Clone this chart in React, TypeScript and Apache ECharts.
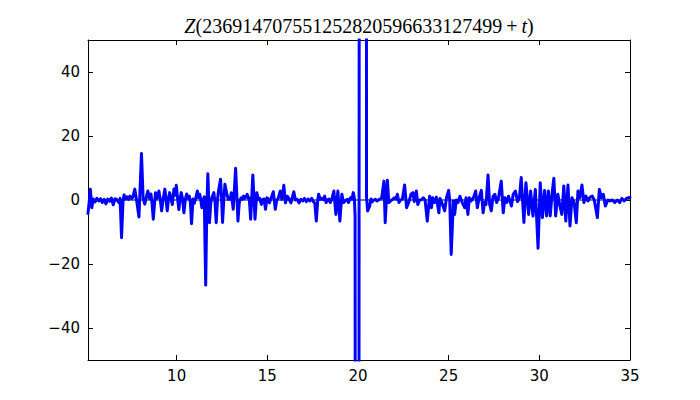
import React, { useEffect, useRef } from "react";
import * as echarts from "echarts";

const tValues = [
  5.11, 5.17, 5.24, 5.32, 5.40, 5.50, 5.60, 5.70, 5.80, 5.90, 6.00, 6.10, 6.20, 6.30, 6.40, 6.50, 6.60, 6.70, 6.80, 6.88,
  6.96, 7.04, 7.10, 7.18, 7.26, 7.34, 7.42, 7.50, 7.58, 7.69, 7.80, 7.92, 8.06, 8.15, 8.24, 8.33, 8.41, 8.50, 8.58, 8.64,
  8.71, 8.83, 8.92, 9.02, 9.10, 9.17, 9.26, 9.35, 9.42, 9.48, 9.55, 9.61, 9.70, 9.76, 9.85, 9.92, 9.98, 10.05, 10.12, 10.18,
  10.25, 10.32, 10.40, 10.48, 10.55, 10.62, 10.70, 10.76, 10.82, 10.90, 10.97, 11.05, 11.14, 11.20, 11.27, 11.33, 11.39, 11.46, 11.52, 11.60,
  11.66, 11.72, 11.81, 11.88, 11.94, 12.05, 12.12, 12.18, 12.25, 12.31, 12.42, 12.48, 12.53, 12.60, 12.66, 12.77, 12.85, 12.90, 12.96, 13.01,
  13.06, 13.12, 13.25, 13.33, 13.38, 13.45, 13.49, 13.56, 13.62, 13.69, 13.75, 13.82, 13.89, 13.95, 14.00, 14.08, 14.20, 14.32, 14.42, 14.50,
  14.58, 14.67, 14.74, 14.82, 14.90, 14.98, 15.06, 15.12, 15.20, 15.33, 15.44, 15.52, 15.60, 15.71, 15.80, 15.91, 16.00, 16.10, 16.20, 16.30,
  16.46, 16.55, 16.65, 16.75, 16.85, 16.95, 17.05, 17.15, 17.25, 17.35, 17.45, 17.55, 17.62, 17.70, 17.78, 17.83, 17.92, 18.00, 18.08, 18.16,
  18.24, 18.32, 18.40, 18.47, 18.55, 18.67, 18.78, 18.89, 19.00, 19.11, 19.20, 19.30, 19.40, 19.48, 19.58, 19.66, 19.74, 19.80, 19.84, 19.88,
  19.96, 20.02, 20.10, 20.30, 20.43, 20.47, 20.53, 20.64, 20.72, 20.80, 20.88, 20.96, 21.05, 21.12, 21.20, 21.30, 21.43, 21.50, 21.62, 21.70,
  21.80, 21.92, 22.00, 22.10, 22.17, 22.26, 22.35, 22.45, 22.57, 22.68, 22.75, 22.85, 22.92, 23.03, 23.10, 23.22, 23.30, 23.40, 23.50, 23.60,
  23.70, 23.82, 23.95, 24.05, 24.12, 24.22, 24.32, 24.46, 24.52, 24.62, 24.78, 24.88, 25.00, 25.06, 25.14, 25.26, 25.33, 25.42, 25.52, 25.62,
  25.75, 25.88, 25.96, 26.06, 26.14, 26.24, 26.38, 26.49, 26.58, 26.68, 26.80, 26.90, 26.98, 27.06, 27.17, 27.26, 27.35, 27.45, 27.55, 27.65,
  27.75, 27.90, 28.01, 28.10, 28.20, 28.30, 28.46, 28.56, 28.68, 28.80, 28.90, 29.00, 29.15, 29.26, 29.41, 29.52, 29.65, 29.78, 29.93, 30.05,
  30.17, 30.29, 30.40, 30.50, 30.60, 30.70, 30.80, 30.90, 31.02, 31.12, 31.24, 31.35, 31.46, 31.58, 31.69, 31.80, 31.92, 32.04, 32.13, 32.24,
  32.35, 32.46, 32.57, 32.68, 32.80, 32.92, 33.03, 33.20, 33.31, 33.42, 33.53, 33.64, 33.78, 33.90, 34.03, 34.16, 34.30, 34.43, 34.55, 34.68,
  34.80, 34.92, 35.00,
];

const zValues = [
  -4.2, -1, 3.4, -2.4, 0.3, -0.6, 0.5, -0.3, 0.4, -0.8, 0.2, -1.2, 0.3, -0.4, 0.6, -1.5, 0.4, 0.1, -0.8, 0.5,
  -11.8, -0.5, 1.6, 0.3, 1.0, 0.2, 1.2, 0.5, 0.8, 3.4, -0.5, -5.3, 14.5, 0.5, -1.3, 1, 2.8, 0.5, 1.9, -1,
  -6, 2.3, 0.5, 2.8, 0, -3.4, 0.5, 3.4, 0, -3.4, 0.3, 2.3, 0.2, -1.4, 3.4, 1.5, 4.6, 0.5, -3, 0,
  2.3, 0.5, -4, 0.3, 1.9, 0.5, 1.2, -1, -7.4, 0.3, -1.0, 0.5, 2.8, 0.8, 1.8, 0, -2.4, 0, 1, -26.6,
  -3, 8.2, -7.1, -1, 0.7, 2.3, -1, -7.1, 0, 3, 6.5, 0, -7, 0, 4.9, 1.8, 0.2, 0.7, 0.3, 2.3,
  0, -2.9, 9.9, 0, -6.6, -1, 0, 0.7, 0.2, 1.2, 0.5, 1.0, 1.8, 0.5, 0.7, -6, 7.8, -6, 2.3, 0.2,
  0.5, -1.4, 0.2, 0.3, -2.9, 0.7, 0.3, -0.9, 0.5, 2.6, -2.9, 0, 0.5, 2.8, 0.2, 4.6, -0.9, 1.2, 0.3, -0.9,
  2.6, 0, 0.2, -0.9, 0.2, -0.3, 0.5, -0.5, 0.3, -0.3, 0.5, -0.6, -1, -6.6, 0, 1.8, 0.2, 0.5, 0.1, 1.2,
  -0.8, 0, 0.3, -0.8, 0.2, 2.8, -4.5, 2.8, -6.6, 1.8, -0.8, -0.3, 0.2, -0.8, 0.7, 0.3, 2.3, 0.5, -5, -400,
  -500, -500, 500, 600, 500, 1, -3.4, -1.9, 0.3, -0.5, 0, 0.2, -0.3, 0, 0.3, 0.5, 5.9, -7.1, 6.2, -0.8,
  -0.3, 0.3, 0.7, 0.3, 1.8, -0.8, 0, 0.3, 4.7, -2.4, -1.4, 0.2, 1.8, 2.3, -0.5, 2.8, -1.4, 0, 0.1, 0.7,
  0, -6.6, 1.2, -2.4, 0.7, -0.8, 0.9, -4, 0.5, -0.8, -3.4, 0.7, 3, -0.3, -17, -0.3, -4.5, 0, -0.8, 1.2,
  -0.8, -2.4, 0.7, -4.5, 0.7, -0.3, 0.9, 2.8, -2.4, 0.7, 3, -4, -0.8, -1.4, 7.8, -1.4, -3.4, 1.2, 1.8, -0.8,
  0.7, 5.9, -4, 0.7, -0.8, 1.2, -1.9, 1.8, 2.8, -0.5, 0.7, 7, -7, 5.4, -4.5, 2.8, -5, 3.3, -15.1, 5.4,
  -5.5, 3, -5, 2.8, -5, 1.8, 6.8, -5, 1.8, -1.4, -4.5, 4.4, -6.6, 4.7, -8.1, 0.7, -0.8, -7.1, 2.8, 0.7,
  4.7, -0.8, 1.2, -0.3, 0.9, 1.2, 0, -5.5, 3.3, 0.7, 1.8, -1.9, 0, -0.3, 0, -0.8, 0, -0.8, 0.5, -0.3,
  0.5, 0.7, 0.8,
];

const xTicks = [10, 15, 20, 25, 30, 35];
const yTicks = [-40, -20, 0, 20, 40];
const xMin = 5.11;
const xMax = 35;
const yMin = -50;
const yMax = 50;
const titleNumber = "236914707551252820596633127499";

const fmt = (v: number) => (v < 0 ? "\u2212" + Math.abs(v) : String(v));

export default function App() {
  const ref = useRef<HTMLDivElement>(null);
  useEffect(() => {
    if (!ref.current) return;
    const chart = echarts.init(ref.current, null, { renderer: "svg" });
    const data = tValues.map((t, i) => [t, zValues[i]]);
    const axisCommon = {
      axisLine: { show: true, onZero: false, lineStyle: { color: "#000", width: 1 } },
      splitLine: { show: false },
    };
    chart.setOption({
      animation: false,
      backgroundColor: "#fff",
      grid: { left: 88, right: 70, top: 40, bottom: 40, containLabel: false },
      graphic: [
        {
          type: "text",
          x: 359,
          y: 26,
          style: {
            text: "{i|Z}{n|(" + titleNumber + "\u2009+\u2009}{i|t}{n|)}",
            align: "center",
            verticalAlign: "middle",
            rich: {
              i: { fontFamily: "Liberation Serif", fontStyle: "italic", fontSize: 20, fill: "#000" },
              n: { fontFamily: "Liberation Serif", fontSize: 20, fill: "#000" },
            },
          },
        },
      ],
      xAxis: [
        {
          type: "value",
          min: xMin,
          max: xMax,
          position: "bottom",
          ...axisCommon,
          axisTick: { show: true, inside: true, length: 5, customValues: xTicks, lineStyle: { color: "#000" } },
          axisLabel: {
            show: true,
            customValues: xTicks,
            formatter: fmt,
            color: "#000",
            fontFamily: "DejaVu Sans",
            fontSize: 15,
            margin: 8,
          },
        },
        {
          type: "value",
          min: xMin,
          max: xMax,
          position: "top",
          ...axisCommon,
          axisTick: { show: true, inside: true, length: 5, customValues: xTicks, lineStyle: { color: "#000" } },
          axisLabel: { show: false },
        },
      ],
      yAxis: [
        {
          type: "value",
          min: yMin,
          max: yMax,
          position: "left",
          ...axisCommon,
          axisTick: { show: true, inside: true, length: 5, customValues: yTicks, lineStyle: { color: "#000" } },
          axisLabel: {
            show: true,
            customValues: yTicks,
            formatter: fmt,
            color: "#000",
            fontFamily: "DejaVu Sans",
            fontSize: 15,
            margin: 8,
          },
        },
        {
          type: "value",
          min: yMin,
          max: yMax,
          position: "right",
          ...axisCommon,
          axisTick: { show: true, inside: true, length: 5, customValues: yTicks, lineStyle: { color: "#000" } },
          axisLabel: { show: false },
        },
      ],
      series: [
        {
          type: "line",
          xAxisIndex: 0,
          yAxisIndex: 0,
          data: [
            [xMin, 0],
            [xMax, 0],
          ],
          showSymbol: false,
          silent: true,
          lineStyle: { color: "#000", width: 1 },
        },
        {
          type: "line",
          xAxisIndex: 0,
          yAxisIndex: 0,
          data,
          showSymbol: false,
          clip: true,
          lineStyle: { color: "#0000ff", width: 3, join: "round", cap: "round" },
          itemStyle: { color: "#0000ff" },
        },
      ],
    });
    return () => chart.dispose();
  }, []);
  return (
    <div
      ref={ref}
      style={{ position: "fixed", left: 0, top: 0, width: 700, height: 400 }}
    />
  );
}
